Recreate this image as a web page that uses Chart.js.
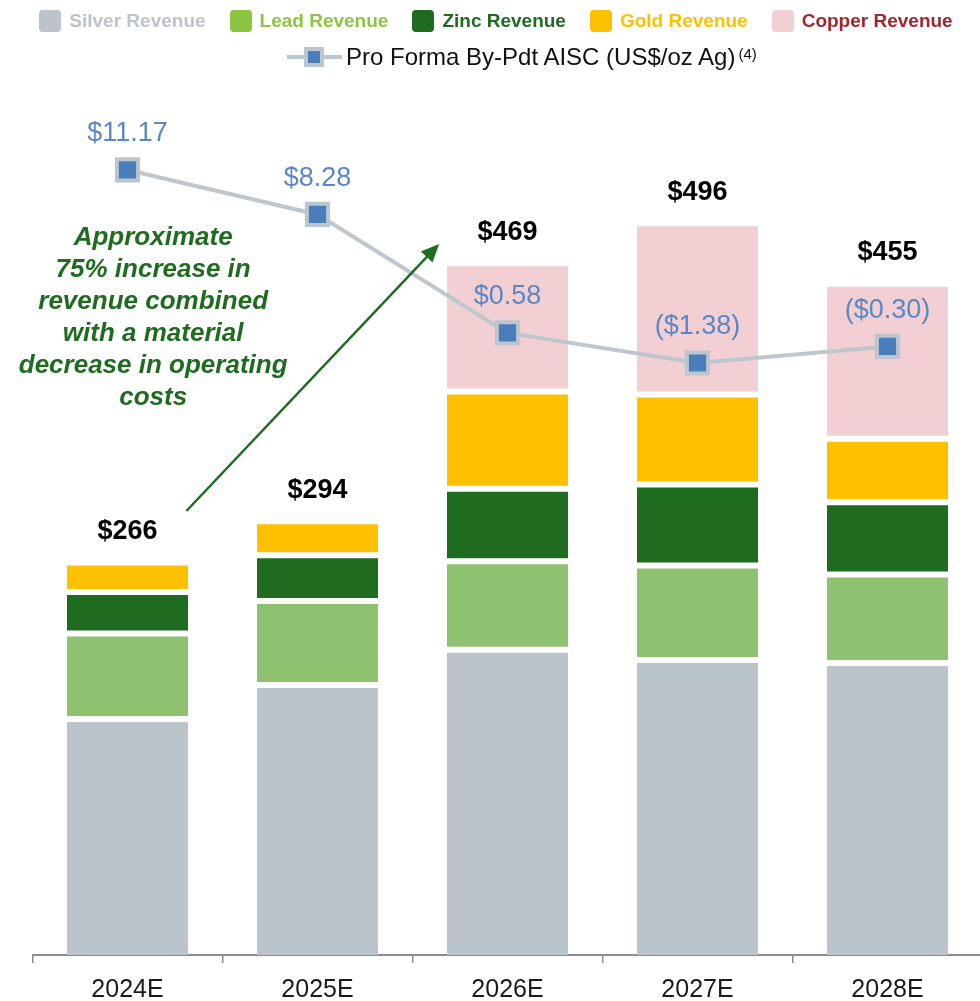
<!DOCTYPE html>
<html>
<head>
<meta charset="utf-8">
<script src="https://cdn.jsdelivr.net/npm/chart.js@4.4.1/dist/chart.umd.min.js"></script>
<style>
  body { margin: 0; background: #fff; overflow: hidden; }
  #wrap { position: relative; width: 990px; height: 1001px; }
  #chart { position: absolute; top: 0; left: 0; }
  #legend { position: absolute; top: 0; left: 0; width: 980px; font-family: "Liberation Sans", Arial, sans-serif; z-index: 2; }
  .row1 { display: flex; justify-content: center; align-items: center; gap: 24px; margin-top: 10px; height: 22px; padding-left: 12px; }
  .item { display: flex; align-items: center; font-weight: bold; font-size: 19px; white-space: nowrap; }
  .swatch { width: 22px; height: 22px; border-radius: 4px; margin-right: 8px; }
  .row2 { position: absolute; top: 43px; left: 287px; display: flex; align-items: center; font-size: 24px; color: #111; white-space: nowrap; }
  .lineIcon { position: relative; width: 55px; height: 24px; margin-right: 4px; }
  .lineIcon .ln { position: absolute; left: 0; right: 0; top: 10px; height: 4px; background: #bfc7ce; }
  .lineIcon .mk { position: absolute; left: 17px; top: 2px; width: 20px; height: 20px; box-sizing: border-box; border: 4px solid #bcc6ce; background: #4a7ebb; }
  .row2 sup { font-size: 15px; position: relative; top: -4px; margin-left: 3px; }
</style>
</head>
<body>
<div id="wrap">
  <canvas id="chart" width="990" height="1001"></canvas>
  <div id="legend"></div>
</div>
<script>
// Data
const years = ['2024E', '2025E', '2026E', '2027E', '2028E'];
const silverRevenue = [160, 183, 207, 200, 198];
const leadRevenue   = [58, 57, 60, 64, 60];
const zincRevenue   = [28, 31, 49, 55, 49];
const goldRevenue   = [20, 23, 66, 61, 43];
const copperRevenue = [null, null, 87, 116, 105];
const aisc = [11.17, 8.28, 0.58, -1.38, -0.30];

const seriesNames = ['Silver Revenue', 'Lead Revenue', 'Zinc Revenue', 'Gold Revenue', 'Copper Revenue'];
const barColors = ['#bcc4cb', '#8fc270', '#1f6b1f', '#ffc000', '#f2cfd2'];
const swatchColors = ['#bcc3ca', '#8cc63e', '#1f6b1f', '#ffc000', '#f2cfd3'];
const legendTextColors = ['#bcc3ca', '#8cc63e', '#1f6b1f', '#ffc000', '#a3262c'];
const lineName = 'Pro Forma By-Pdt AISC (US$/oz Ag)';
const lineNote = '(4)';

const noteLines = ['Approximate', '75% increase in', 'revenue combined', 'with a material', 'decrease in operating', 'costs'];
const noteAt = { x: 0.135, y: 486 };
const arrowFrom = { x: 0.31, y: 301 };
const arrowTo = { x: 1.64, y: 482 };

const revenueSeries = [silverRevenue, leadRevenue, zincRevenue, goldRevenue, copperRevenue];
const FONT = '"Liberation Sans", Arial, sans-serif';

// Legend
const legend = document.getElementById('legend');
legend.innerHTML = `<div class="row1">${seriesNames.map((n, i) =>
  `<div class="item" style="color:${legendTextColors[i]}"><span class="swatch" style="background:${swatchColors[i]}"></span>${n}</div>`
).join('')}</div>
<div class="row2"><span class="lineIcon"><span class="ln"></span><span class="mk"></span></span>${lineName}<sup>${lineNote}</sup></div>`;

const fmtAisc = (v) => v < 0 ? `($${Math.abs(v).toFixed(2)})` : `$${v.toFixed(2)}`;

const labelPlugin = {
  id: 'labels',
  afterDatasetsDraw(chart) {
    const { ctx, scales: { x, y } } = chart;
    ctx.save();
    ctx.textAlign = 'center';
    ctx.textBaseline = 'middle';

    // totals
    ctx.font = `bold 27px ${FONT}`;
    ctx.fillStyle = '#000';
    years.forEach((yr, i) => {
      const total = revenueSeries.reduce((s, arr) => s + (arr[i] || 0), 0);
      ctx.fillText('$' + total, x.getPixelForValue(i), y.getPixelForValue(total) - 31);
    });

    // AISC labels
    ctx.font = `27px ${FONT}`;
    ctx.fillStyle = '#5b87c6';
    chart.getDatasetMeta(5).data.forEach((pt, i) => {
      ctx.fillText(fmtAisc(aisc[i]), pt.x, pt.y - 36);
    });

    // note
    ctx.font = `italic bold 26px ${FONT}`;
    ctx.fillStyle = '#1f6b1f';
    const nx = x.getPixelForValue(noteAt.x);
    const ny = y.getPixelForValue(noteAt.y);
    noteLines.forEach((t, i) => ctx.fillText(t, nx, ny + i * 32));

    // arrow
    const x0 = x.getPixelForValue(arrowFrom.x), y0 = y.getPixelForValue(arrowFrom.y);
    const x1 = x.getPixelForValue(arrowTo.x), y1 = y.getPixelForValue(arrowTo.y);
    const ang = Math.atan2(y1 - y0, x1 - x0);
    const hl = 18, hw = 8;
    ctx.strokeStyle = '#1f6b1f';
    ctx.lineWidth = 2.5;
    ctx.beginPath();
    ctx.moveTo(x0, y0);
    ctx.lineTo(x1 - Math.cos(ang) * hl * 0.8, y1 - Math.sin(ang) * hl * 0.8);
    ctx.stroke();
    ctx.beginPath();
    ctx.moveTo(x1, y1);
    ctx.lineTo(x1 - Math.cos(ang) * hl + Math.sin(ang) * hw, y1 - Math.sin(ang) * hl - Math.cos(ang) * hw);
    ctx.lineTo(x1 - Math.cos(ang) * hl - Math.sin(ang) * hw, y1 - Math.sin(ang) * hl + Math.cos(ang) * hw);
    ctx.closePath();
    ctx.fillStyle = '#1f6b1f';
    ctx.fill();
    ctx.restore();
  }
};

const barSets = revenueSeries.map((data, i) => ({
  type: 'bar',
  label: seriesNames[i],
  data,
  backgroundColor: barColors[i],
  borderColor: '#ffffff',
  borderWidth: i === 0 ? { top: 3, bottom: 0, left: 0, right: 0 } : { top: 3, bottom: 3, left: 0, right: 0 },
  borderSkipped: false,
  categoryPercentage: 1,
  barPercentage: 0.637,
  yAxisID: 'y',
  order: 2
}));

new Chart(document.getElementById('chart'), {
  data: {
    labels: years,
    datasets: [...barSets, {
      type: 'line',
      label: lineName,
      data: aisc,
      yAxisID: 'y2',
      borderColor: '#bfc7ce',
      borderWidth: 4,
      pointStyle: 'rect',
      pointRadius: 15,
      pointBorderWidth: 4,
      pointBackgroundColor: '#4a7ebb',
      pointBorderColor: '#bcc6ce',
      tension: 0,
      order: 1
    }]
  },
  options: {
    responsive: false,
    animation: false,
    devicePixelRatio: 1,
    layout: { autoPadding: false, padding: { top: 90, left: 32.5, right: 7.5, bottom: -16 } },
    plugins: { legend: { display: false }, tooltip: { enabled: false } },
    scales: {
      x: {
        stacked: true,
        offset: true,
        grid: { display: true, offset: true, drawOnChartArea: false, drawTicks: true, tickLength: 8, color: '#8c8c8c', lineWidth: 1.5 },
        border: { display: true, color: '#8c8c8c', width: 2 },
        ticks: { color: '#1a1a1a', padding: 12, font: { family: FONT, size: 25 } }
      },
      y: { display: false, stacked: true, min: 0, max: 586.4 },
      y2: { display: false, position: 'right', min: -39.87, max: 16.37 }
    }
  },
  plugins: [labelPlugin]
});
</script>
</body>
</html>
